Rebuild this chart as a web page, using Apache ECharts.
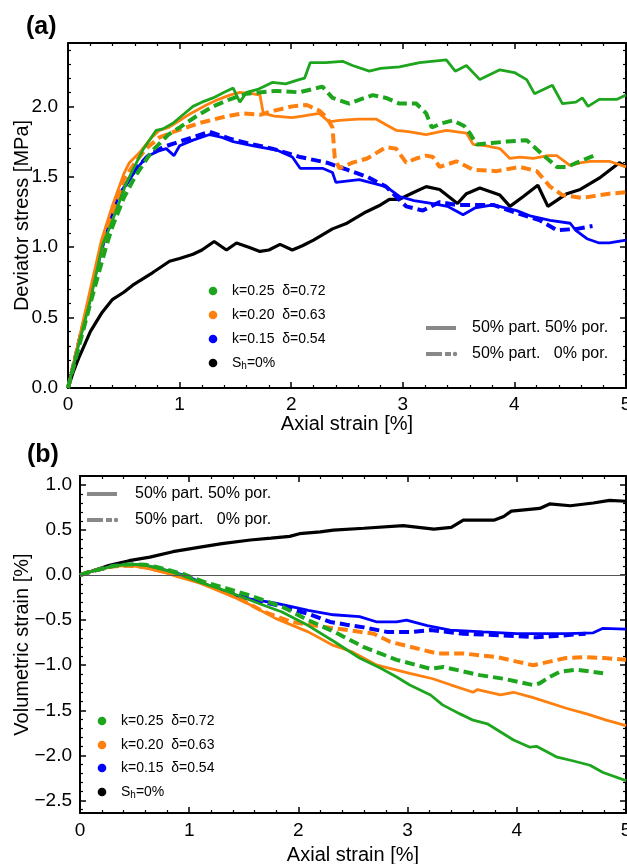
<!DOCTYPE html>
<html>
<head>
<meta charset="utf-8">
<script src="https://cdn.jsdelivr.net/npm/echarts@6/dist/echarts.min.js"></script>
<style>html,body{margin:0;padding:0;background:#fff}#c{width:627px;height:864px}</style>
</head>
<body>
<div id="c"></div>
<script>
// ---------- Panel (a): deviator stress [MPa] vs axial strain [%] ----------
const stressGreen50 = [[0,0],[0.1,0.32],[0.2,0.62],[0.31,1.02],[0.38,1.15],[0.45,1.3],[0.52,1.45],[0.6,1.58],[0.67,1.69],[0.79,1.83],[0.85,1.84],[0.94,1.88],[1.06,1.96],[1.12,2.0],[1.2,2.03],[1.3,2.06],[1.4,2.1],[1.48,2.13],[1.54,2.03],[1.6,2.1],[1.7,2.12],[1.83,2.17],[1.95,2.16],[2.07,2.19],[2.12,2.2],[2.17,2.31],[2.31,2.31],[2.46,2.32],[2.55,2.29],[2.7,2.25],[2.8,2.27],[2.97,2.28],[3.15,2.31],[3.39,2.33],[3.47,2.25],[3.57,2.29],[3.69,2.19],[3.87,2.26],[4.0,2.24],[4.11,2.19],[4.18,2.09],[4.34,2.15],[4.43,2.02],[4.55,2.03],[4.61,2.06],[4.66,2.0],[4.76,2.05],[4.92,2.05],[5.0,2.08]];
const stressGreen0 = [[0,0],[0.1,0.3],[0.2,0.6],[0.34,1.0],[0.4,1.15],[0.5,1.35],[0.6,1.5],[0.75,1.68],[0.9,1.8],[1.0,1.85],[1.15,1.93],[1.3,2.0],[1.45,2.05],[1.6,2.09],[1.87,2.11],[2.07,2.1],[2.23,2.13],[2.28,2.14],[2.37,2.06],[2.52,2.02],[2.62,2.05],[2.73,2.08],[2.85,2.06],[2.97,2.02],[3.12,2.02],[3.21,1.95],[3.26,1.85],[3.35,1.88],[3.45,1.9],[3.55,1.86],[3.6,1.81],[3.66,1.73],[3.8,1.74],[3.93,1.75],[4.11,1.76],[4.25,1.66],[4.38,1.57],[4.47,1.57],[4.56,1.6],[4.74,1.66]];
const stressOrange50 = [[0,0],[0.1,0.35],[0.2,0.7],[0.3,1.05],[0.4,1.3],[0.5,1.52],[0.55,1.6],[0.65,1.68],[0.75,1.78],[0.82,1.83],[0.9,1.85],[1.0,1.9],[1.1,1.95],[1.24,2.01],[1.35,2.05],[1.45,2.08],[1.54,2.1],[1.65,2.09],[1.72,2.08],[1.75,1.95],[1.85,1.93],[2.01,1.92],[2.1,1.93],[2.25,1.95],[2.34,1.89],[2.43,1.9],[2.6,1.91],[2.76,1.91],[2.85,1.87],[2.94,1.83],[3.05,1.82],[3.21,1.8],[3.39,1.83],[3.57,1.81],[3.63,1.73],[3.75,1.72],[3.87,1.7],[3.96,1.63],[4.05,1.64],[4.17,1.63],[4.3,1.65],[4.38,1.65],[4.5,1.58],[4.6,1.6],[4.68,1.61],[4.85,1.61],[5.0,1.57]];
const stressOrange0 = [[0,0],[0.1,0.33],[0.2,0.66],[0.3,0.98],[0.4,1.25],[0.5,1.48],[0.6,1.6],[0.7,1.7],[0.82,1.78],[0.95,1.82],[1.06,1.85],[1.17,1.88],[1.27,1.9],[1.42,1.93],[1.57,1.95],[1.72,1.94],[1.85,1.97],[2.01,2.0],[2.14,2.01],[2.25,1.97],[2.32,1.92],[2.37,1.85],[2.39,1.64],[2.43,1.56],[2.55,1.6],[2.68,1.63],[2.85,1.71],[2.94,1.7],[3.03,1.6],[3.12,1.63],[3.21,1.65],[3.27,1.64],[3.33,1.57],[3.48,1.61],[3.63,1.55],[3.84,1.54],[4.05,1.57],[4.2,1.54],[4.32,1.43],[4.43,1.37],[4.61,1.35],[4.85,1.38],[5.0,1.39]];
const stressBlue50 = [[0,0],[0.1,0.34],[0.2,0.66],[0.3,0.97],[0.38,1.2],[0.46,1.38],[0.55,1.48],[0.62,1.56],[0.7,1.64],[0.8,1.68],[0.88,1.7],[0.95,1.65],[1.0,1.72],[1.12,1.76],[1.27,1.8],[1.38,1.78],[1.48,1.75],[1.66,1.72],[1.87,1.69],[2.01,1.64],[2.08,1.56],[2.28,1.56],[2.37,1.53],[2.4,1.46],[2.61,1.48],[2.85,1.43],[2.97,1.36],[3.1,1.33],[3.27,1.31],[3.4,1.29],[3.54,1.23],[3.65,1.28],[3.81,1.3],[4.02,1.26],[4.15,1.22],[4.32,1.19],[4.5,1.17],[4.55,1.12],[4.65,1.06],[4.76,1.03],[4.85,1.03],[5.0,1.05]];
const stressBlue0 = [[0,0],[0.1,0.33],[0.2,0.65],[0.3,0.95],[0.4,1.22],[0.5,1.42],[0.6,1.55],[0.72,1.65],[0.85,1.71],[1.0,1.75],[1.12,1.78],[1.27,1.82],[1.45,1.77],[1.6,1.74],[1.83,1.7],[2.08,1.64],[2.32,1.6],[2.5,1.55],[2.68,1.5],[2.85,1.43],[3.03,1.29],[3.18,1.26],[3.33,1.32],[3.48,1.3],[3.65,1.3],[3.81,1.3],[3.99,1.25],[4.23,1.19],[4.34,1.14],[4.38,1.12],[4.56,1.13],[4.7,1.15]];
const stressBlack = [[0,0],[0.05,0.12],[0.1,0.22],[0.2,0.4],[0.3,0.53],[0.4,0.63],[0.5,0.68],[0.58,0.73],[0.76,0.82],[0.91,0.9],[1.0,0.92],[1.12,0.95],[1.2,0.98],[1.31,1.04],[1.42,0.98],[1.51,1.03],[1.62,1.0],[1.72,0.97],[1.8,0.98],[1.9,1.02],[2.01,0.98],[2.1,1.01],[2.2,1.05],[2.37,1.13],[2.5,1.17],[2.67,1.25],[2.8,1.3],[2.88,1.34],[2.97,1.34],[3.1,1.39],[3.21,1.43],[3.33,1.41],[3.49,1.31],[3.57,1.38],[3.69,1.42],[3.87,1.37],[3.96,1.29],[4.08,1.36],[4.21,1.44],[4.3,1.29],[4.47,1.38],[4.59,1.41],[4.76,1.49],[4.94,1.6],[5.0,1.57]];

// ---------- Panel (b): volumetric strain [%] vs axial strain [%] ----------
const volBlack = [[0,0],[0.1,0.04],[0.27,0.11],[0.45,0.16],[0.64,0.2],[0.85,0.26],[1.1,0.31],[1.3,0.35],[1.56,0.39],[1.75,0.41],[1.92,0.43],[2.01,0.46],[2.2,0.48],[2.32,0.5],[2.6,0.52],[2.96,0.55],[3.1,0.53],[3.24,0.51],[3.4,0.53],[3.51,0.61],[3.79,0.61],[3.88,0.65],[3.95,0.71],[4.21,0.74],[4.3,0.79],[4.49,0.77],[4.7,0.8],[4.85,0.83],[5.0,0.82]];
const volGreen50 = [[0,0],[0.1,0.04],[0.2,0.07],[0.3,0.1],[0.4,0.115],[0.5,0.12],[0.6,0.11],[0.7,0.08],[0.8,0.05],[0.93,0.0],[1.1,-0.08],[1.3,-0.16],[1.48,-0.24],[1.65,-0.32],[1.85,-0.41],[2.09,-0.56],[2.33,-0.74],[2.56,-0.92],[2.75,-1.03],[2.9,-1.13],[3.02,-1.22],[3.21,-1.33],[3.32,-1.44],[3.48,-1.54],[3.6,-1.61],[3.73,-1.65],[3.97,-1.83],[4.12,-1.91],[4.18,-1.9],[4.37,-2.02],[4.51,-2.06],[4.67,-2.11],[4.79,-2.19],[5.0,-2.28]];
const volGreen0 = [[0,0],[0.1,0.04],[0.2,0.07],[0.3,0.1],[0.4,0.115],[0.5,0.12],[0.6,0.115],[0.7,0.09],[0.8,0.06],[0.95,0.01],[1.17,-0.09],[1.35,-0.15],[1.54,-0.22],[1.85,-0.35],[2.09,-0.5],[2.33,-0.63],[2.6,-0.8],[2.9,-0.94],[3.21,-1.04],[3.33,-1.02],[3.66,-1.11],[3.88,-1.15],[4.15,-1.22],[4.21,-1.2],[4.3,-1.13],[4.4,-1.07],[4.55,-1.05],[4.67,-1.07],[4.79,-1.09]];
const volOrange50 = [[0,0],[0.1,0.04],[0.2,0.07],[0.3,0.095],[0.4,0.105],[0.5,0.1],[0.6,0.08],[0.7,0.05],[0.8,0.02],[0.9,-0.02],[1.1,-0.09],[1.3,-0.19],[1.48,-0.28],[1.79,-0.48],[2.09,-0.63],[2.32,-0.78],[2.49,-0.85],[2.72,-1.0],[3.02,-1.09],[3.23,-1.15],[3.4,-1.22],[3.6,-1.3],[3.64,-1.27],[3.85,-1.33],[3.97,-1.3],[4.15,-1.36],[4.46,-1.48],[4.64,-1.54],[4.82,-1.61],[5.0,-1.67]];
const volOrange0 = [[0,0],[0.1,0.04],[0.2,0.07],[0.3,0.095],[0.4,0.105],[0.5,0.1],[0.6,0.085],[0.7,0.06],[0.8,0.03],[0.95,-0.02],[1.15,-0.1],[1.39,-0.22],[1.69,-0.41],[1.94,-0.52],[2.2,-0.57],[2.45,-0.61],[2.69,-0.65],[2.84,-0.74],[3.14,-0.83],[3.27,-0.87],[3.51,-0.87],[3.82,-0.91],[4.0,-0.96],[4.15,-1.0],[4.3,-0.96],[4.45,-0.92],[4.64,-0.91],[4.8,-0.92],[5.0,-0.94]];
const volBlue50 = [[0,0],[0.1,0.04],[0.2,0.07],[0.3,0.1],[0.4,0.11],[0.5,0.115],[0.6,0.105],[0.7,0.08],[0.8,0.05],[0.95,0.0],[1.15,-0.1],[1.3,-0.17],[1.48,-0.25],[1.79,-0.31],[2.01,-0.37],[2.09,-0.39],[2.32,-0.44],[2.56,-0.46],[2.72,-0.52],[2.9,-0.52],[2.99,-0.5],[3.18,-0.56],[3.39,-0.61],[3.69,-0.63],[4.0,-0.65],[4.46,-0.65],[4.7,-0.64],[4.79,-0.59],[5.0,-0.6]];
const volBlue0 = [[0,0],[0.1,0.04],[0.2,0.07],[0.3,0.1],[0.4,0.11],[0.5,0.115],[0.6,0.105],[0.7,0.08],[0.8,0.05],[0.95,0.0],[1.15,-0.1],[1.3,-0.16],[1.48,-0.24],[1.79,-0.33],[2.09,-0.43],[2.29,-0.52],[2.44,-0.55],[2.6,-0.58],[2.81,-0.63],[3.05,-0.63],[3.21,-0.61],[3.51,-0.65],[3.88,-0.67],[4.18,-0.69],[4.42,-0.67],[4.63,-0.65]];

// ---------- labels ----------
const legendLabels = ['k=0.25  δ=0.72', 'k=0.20  δ=0.63', 'k=0.15  δ=0.54', 'S{s|h}=0%'];
const styleLabels = ['50% part. 50% por.', '50% part.   0% por.'];
const xTitle = 'Axial strain [%]';
const yTitleA = 'Deviator stress [MPa]';
const yTitleB = 'Volumetric strain [%]';

const GREEN = '#1ea51e', ORANGE = '#ff800e', BLUE = '#0000ff', BLACK = '#000000';
const legendColors = [GREEN, ORANGE, BLUE, BLACK];

const FONT = 'Liberation Sans, Arial, sans-serif';
const fmtY = v => (Math.abs(v) < 1e-9 ? '0.0' : v.toFixed(1)).replace('-', '\u2212');

function xAx(grid, bottom, opts) {
  return Object.assign({
    type: 'value', gridIndex: grid, min: 0, max: 5, interval: 1,
    position: bottom ? 'bottom' : 'top',
    axisLine: { show: true, onZero: false, lineStyle: { color: '#000', width: 2 } },
    axisTick: { show: true, inside: true, length: 6, lineStyle: { color: '#000', width: 1.5 } },
    minorTick: { show: true, splitNumber: 5, length: 3, lineStyle: { color: '#000', width: 1.2 } },
    axisLabel: bottom ? { show: true, fontSize: 19, color: '#000', fontFamily: FONT, margin: 7 } : { show: false },
    splitLine: { show: false }, minorSplitLine: { show: false }, nameMoveOverlap: false
  }, opts || {});
}
function yAx(grid, left, opts) {
  return Object.assign({
    type: 'value', gridIndex: grid, position: left ? 'left' : 'right',
    axisLine: { show: true, onZero: false, lineStyle: { color: '#000', width: 2 } },
    axisTick: { show: true, inside: true, length: 6, lineStyle: { color: '#000', width: 1.5 } },
    minorTick: { show: true, splitNumber: 5, length: 3, lineStyle: { color: '#000', width: 1.2 } },
    axisLabel: left ? { show: true, fontSize: 19, color: '#000', fontFamily: FONT, formatter: fmtY, showMinLabel: true, showMaxLabel: false, margin: 10 } : { show: false },
    splitLine: { show: false }, minorSplitLine: { show: false }, nameMoveOverlap: false
  }, opts || {});
}

function line(data, color, dashed, xi, yi, extra) {
  return Object.assign({
    type: 'line', data: data, xAxisIndex: xi, yAxisIndex: yi,
    showSymbol: false, symbol: 'none', silent: true, animation: false,
    lineStyle: dashed ? { color: color, width: 4, type: [10, 5] } : { color: color, width: 2.8 },
    z: 3
  }, extra || {});
}

const chart = echarts.init(document.getElementById('c'), null, { renderer: 'canvas' });

const graphics = [];
graphics.push({ type: 'text', left: 26, top: 15, style: { text: '(a)', font: 'bold 25px ' + FONT, fill: '#000' } });
graphics.push({ type: 'text', left: 27, top: 443, style: { text: '(b)', font: 'bold 25px ' + FONT, fill: '#000' } });

function dotLegend(cx, cys, tx) {
  legendLabels.forEach((t, i) => {
    graphics.push({ type: 'circle', shape: { cx: cx, cy: cys[i], r: 4.3 }, style: { fill: legendColors[i] }, z: 10 });
    graphics.push({ type: 'text', x: tx, y: cys[i], z: 10, style: {
      text: t, font: '14px ' + FONT, fill: '#000', verticalAlign: 'middle', align: 'left',
      rich: { s: { fontSize: 10, fontFamily: FONT, padding: [6, 0, 0, 0] } }
    } });
  });
}
function styleLegend(x1, x2, y1, y2, tx) {
  graphics.push({ type: 'line', shape: { x1: x1, y1: y1, x2: x2, y2: y1 }, style: { stroke: '#888', lineWidth: 4 }, z: 10 });
  graphics.push({ type: 'line', shape: { x1: x1, y1: y2, x2: x1 + 16, y2: y2 }, style: { stroke: '#888', lineWidth: 4 }, z: 10 });
  graphics.push({ type: 'line', shape: { x1: x1 + 19, y1: y2, x2: x1 + 25, y2: y2 }, style: { stroke: '#888', lineWidth: 4 }, z: 10 });
  graphics.push({ type: 'circle', shape: { cx: x2 - 1, cy: y2, r: 2.2 }, style: { fill: '#888' }, z: 10 });
  graphics.push({ type: 'text', x: tx, y: y1, z: 10, style: { text: styleLabels[0], font: '16px ' + FONT, fill: '#000', verticalAlign: 'middle' } });
  graphics.push({ type: 'text', x: tx, y: y2, z: 10, style: { text: styleLabels[1], font: '16px ' + FONT, fill: '#000', verticalAlign: 'middle' } });
}
dotLegend(213, [291, 315, 339, 363], 232);
dotLegend(102, [721, 745, 768, 792], 121);
styleLegend(426, 456, 328, 354, 472);
styleLegend(87, 117, 494, 520, 135);

const option = {
  backgroundColor: '#fff',
  animation: false,
  textStyle: { fontFamily: FONT },
  grid: [
    { left: 68, top: 43, width: 558, height: 345, containLabel: false, outerBoundsMode: 'none' },
    { left: 80, top: 476, width: 546, height: 337, containLabel: false, outerBoundsMode: 'none' }
  ],
  xAxis: [
    xAx(0, true, { name: xTitle, nameLocation: 'middle', nameGap: 26, nameTextStyle: { fontSize: 20, color: '#000', fontFamily: FONT } }),
    xAx(0, false),
    xAx(1, true, { name: xTitle, nameLocation: 'middle', nameGap: 32, nameTextStyle: { fontSize: 20, color: '#000', fontFamily: FONT },
      axisLabel: { show: true, fontSize: 19, color: '#000', fontFamily: FONT, margin: 8 } }),
    xAx(1, false)
  ],
  yAxis: [
    yAx(0, true, { min: 0, max: 2.45, interval: 0.5, name: yTitleA, nameLocation: 'middle', nameGap: 36, nameRotate: 90,
      nameTextStyle: { fontSize: 20, color: '#000', fontFamily: FONT } }),
    yAx(0, false, { min: 0, max: 2.45, interval: 0.5 }),
    yAx(1, true, { min: -2.64, max: 1.1, splitNumber: 7, name: yTitleB, nameLocation: 'middle', nameGap: 48, nameRotate: 90,
      nameTextStyle: { fontSize: 20, color: '#000', fontFamily: FONT },
      axisLabel: { show: true, fontSize: 19, color: '#000', fontFamily: FONT, formatter: fmtY, showMinLabel: false, showMaxLabel: false, margin: 8 } }),
    yAx(1, false, { min: -2.64, max: 1.1, splitNumber: 7 })
  ],
  graphic: graphics,
  series: [
    line(stressBlack, BLACK, false, 0, 0, { lineStyle: { color: BLACK, width: 3.2 } }),
    line(stressBlue50, BLUE, false, 0, 0),
    line(stressBlue0, BLUE, true, 0, 0),
    line(stressOrange50, ORANGE, false, 0, 0),
    line(stressOrange0, ORANGE, true, 0, 0),
    line(stressGreen50, GREEN, false, 0, 0),
    line(stressGreen0, GREEN, true, 0, 0),
    line(volBlack, BLACK, false, 2, 2, { lineStyle: { color: BLACK, width: 3.2 },
      markLine: { silent: true, symbol: 'none', animation: false, label: { show: false },
        lineStyle: { color: '#555', width: 1, type: 'solid' }, data: [{ yAxis: 0 }] }, z: 2 }),
    line(volBlue50, BLUE, false, 2, 2),
    line(volBlue0, BLUE, true, 2, 2),
    line(volOrange50, ORANGE, false, 2, 2),
    line(volOrange0, ORANGE, true, 2, 2),
    line(volGreen50, GREEN, false, 2, 2),
    line(volGreen0, GREEN, true, 2, 2)
  ]
};
chart.setOption(option);
</script>
</body>
</html>
